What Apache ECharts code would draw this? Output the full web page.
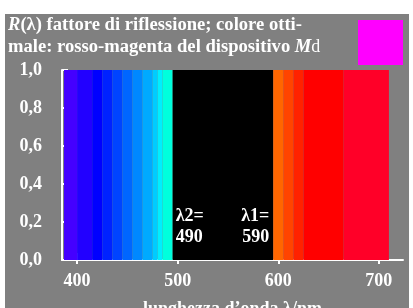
<!DOCTYPE html>
<html>
<head>
<meta charset="utf-8">
<script src="https://cdn.jsdelivr.net/npm/echarts@6/dist/echarts.min.js"></script>
<style>
  html, body { margin: 0; padding: 0; background: #fff; }
  #chart { width: 413px; height: 308px; }
</style>
</head>
<body>
<div id="chart"></div>
<script>
// bande di colore: inizio/fine (nm), fattore di riflessione, colore
var bandStart = [387, 400, 415, 425, 435, 445, 455, 465, 475, 480, 485, 495, 595, 605, 615, 625, 665];
var bandEnd   = [400, 415, 425, 435, 445, 455, 465, 475, 480, 485, 495, 595, 605, 615, 625, 665, 710];
var bandValue = [1, 1, 1, 1, 1, 1, 1, 1, 1, 1, 1, 1, 1, 1, 1, 1, 1];
var bandColor = ['#4400ff', '#2200ff', '#0000ff', '#0022ff', '#0044ff', '#0066ff', '#0088ff', '#00aaff',
                 '#00ccff', '#00eeff', '#00ffdd', '#000000', '#ff6600', '#ff4400', '#ff2200', '#ff0000', '#ff0028'];
var xTicks = [400, 500, 600, 700];
var yTicks = ['0,0', '0,2', '0,4', '0,6', '0,8', '1,0'];
// lambda2 / lambda1
var markWave = [495, 595];
var markText = ['λ2=\n490', 'λ1=\n590'];

var FONT = 'Liberation Serif';
var chart = echarts.init(document.getElementById('chart'));

var bandData = bandStart.map(function (s, i) {
  return { value: [s, bandEnd[i], bandValue[i]], itemStyle: { color: bandColor[i] } };
});

chart.setOption({
  backgroundColor: '#ffffff',
  animation: false,
  graphic: [
    { type: 'rect', z: -10, shape: { x: 5, y: 14, width: 404, height: 294 }, style: { fill: '#808080' } },
    { type: 'rect', z: 10, shape: { x: 358, y: 20, width: 45, height: 45 }, style: { fill: '#ff00ff' } }
  ],
  title: {
    left: 8, top: 14, padding: 0,
    text: '{i|R}(λ) fattore di riflessione; colore otti-\nmale: rosso-magenta del dispositivo {i|M}{s|d}',
    textStyle: {
      color: '#fff', fontFamily: FONT, fontWeight: 'bold', fontSize: 18.6, lineHeight: 22,
      rich: {
        i: { fontStyle: 'italic', color: '#fff', fontFamily: FONT, fontWeight: 'bold', fontSize: 18.6, lineHeight: 22 },
        s: { color: '#fff', fontFamily: FONT, fontWeight: 'normal', fontSize: 18, lineHeight: 22 }
      }
    }
  },
  grid: { left: 62, right: 10, top: 70, bottom: 48, outerBoundsMode: 'none', containLabel: false },
  xAxis: [{
    type: 'value', min: 385, max: 724,
    name: 'lunghezza d’onda λ/nm', nameLocation: 'middle', nameGap: 40,
    nameTextStyle: { color: '#fff', fontFamily: FONT, fontWeight: 'bold', fontSize: 18 },
    axisLine: { lineStyle: { color: '#fff', width: 2 } },
    splitLine: { show: false },
    axisTick: { inside: true, length: 7, lineStyle: { color: '#fff', width: 2 }, customValues: xTicks },
    axisLabel: { color: '#fff', fontFamily: FONT, fontWeight: 'bold', fontSize: 18, margin: 12, customValues: xTicks }
  }, {
    type: 'value', min: 385, max: 724, position: 'bottom',
    axisLine: { show: false }, splitLine: { show: false }, axisLabel: { show: false },
    axisTick: { inside: false, length: 4, lineStyle: { color: '#fff', width: 2 }, customValues: xTicks }
  }],
  yAxis: {
    type: 'value', min: 0, max: 1, interval: 0.2,
    axisLine: { show: true, lineStyle: { color: '#fff', width: 2 } },
    splitLine: { show: false },
    axisTick: { show: true, inside: true, length: 6, lineStyle: { color: '#fff', width: 2 } },
    axisLabel: {
      color: '#fff', fontFamily: FONT, fontWeight: 'bold', fontSize: 18, margin: 20,
      formatter: function (v) { return yTicks[Math.round(v * 5)]; }
    }
  },
  series: [{
    type: 'custom',
    data: bandData,
    encode: { x: [0, 1], y: 2 },
    renderItem: function (params, api) {
      var p0 = api.coord([api.value(0), api.value(2)]);
      var p1 = api.coord([api.value(1), 0]);
      return {
        type: 'rect',
        shape: { x: p0[0], y: p0[1], width: p1[0] - p0[0], height: p1[1] - p0[1] },
        style: { fill: api.visual('color') }
      };
    }
  }, {
    type: 'custom',
    z: 5,
    data: markWave.map(function (w, i) { return [w, 0.2, i]; }),
    renderItem: function (params, api) {
      var i = api.value(2);
      var p = api.coord([api.value(0), 0.2]);
      return {
        type: 'text',
        x: i === 0 ? p[0] + 3 : p[0] - 4,
        y: p[1] - 16,
        style: {
          text: markText[i], fill: '#fff', align: i === 0 ? 'left' : 'right', verticalAlign: 'top',
          font: 'bold 18px "' + FONT + '"', lineHeight: 21
        }
      };
    }
  }]
});
</script>
</body>
</html>
